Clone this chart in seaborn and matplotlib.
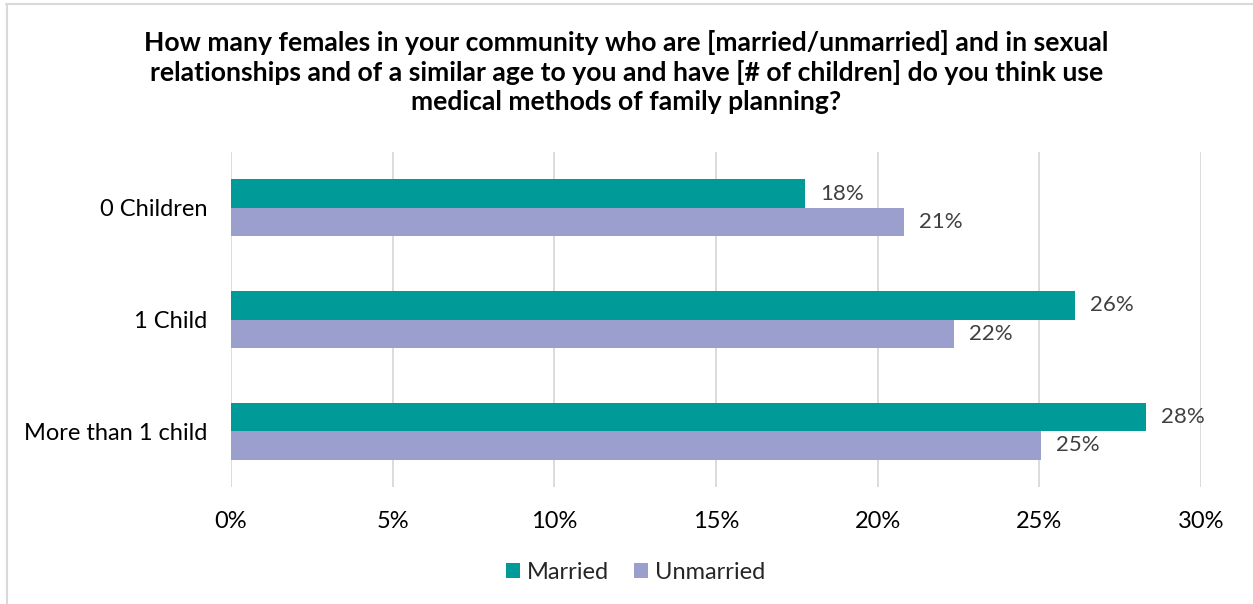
import matplotlib
matplotlib.use("Agg")
import matplotlib.pyplot as plt
from matplotlib.lines import Line2D
from matplotlib.ticker import FuncFormatter, MultipleLocator
import seaborn as sns
import pandas as pd

categories = ["0 Children", "1 Child", "More than 1 child"]
married = [17.75, 26.1, 28.3]
unmarried = [20.8, 22.35, 25.05]
married_labels = ["18%", "26%", "28%"]
unmarried_labels = ["21%", "22%", "25%"]
series = ["Married", "Unmarried"]
colors = ["#009B98", "#9B9FCD"]
title = ("How many females in your community who are [married/unmarried] and in sexual\n"
         "relationships and of a similar age to you and have [# of children] do you think use\n"
         "medical methods of family planning?")

df = pd.DataFrame({
    "category": categories * 2,
    "value": married + unmarried,
    "series": [series[0]] * 3 + [series[1]] * 3,
})

sns.set_theme(style="white")
plt.rcParams["font.family"] = ["Lato", "DejaVu Sans"]

fig = plt.figure(figsize=(12.53, 6.04), dpi=100)
ax = fig.add_axes([231 / 1253, 1 - 487 / 604, (1201 - 231) / 1253, (487 - 152) / 604])

sns.barplot(data=df, x="value", y="category", hue="series", order=categories,
            hue_order=series, palette=colors, width=0.51, orient="h", ax=ax,
            saturation=1, edgecolor="none", legend=True)

ax.set_xlim(0, 30)
ax.set_ylim(2.5, -0.5)
ax.xaxis.set_major_locator(MultipleLocator(5))
ax.xaxis.set_major_formatter(FuncFormatter(lambda v, p: f"{v:.0f}%"))
ax.grid(axis="x", color="#D9D9D9", linewidth=1.3)
ax.grid(axis="y", visible=False)
ax.set_axisbelow(True)
for s in ax.spines.values():
    s.set_visible(False)
ax.set_xlabel("")
ax.set_ylabel("")
ax.tick_params(axis="x", labelsize=17, colors="black", pad=17, length=0)
ax.tick_params(axis="y", labelsize=17, colors="black", pad=17, length=0)
for t in ax.get_xticklabels() + ax.get_yticklabels():
    t.set_color("black")

labels_all = [married_labels, unmarried_labels]
for cont, labs in zip(ax.containers, labels_all):
    ax.bar_label(cont, labels=labs, padding=11, fontsize=16, color="#404040")

leg = ax.legend(loc="upper center", bbox_to_anchor=(0.417, -0.195), ncol=2, frameon=False,
                fontsize=17, handlelength=0.6, handleheight=0.6, handletextpad=0.3,
                columnspacing=1.05, borderaxespad=0)

fig.text(0.5, 1 - 30 / 604, title, ha="center", va="top", fontsize=19.1,
         fontweight="bold", color="black", linespacing=1.24)

fig.add_artist(Line2D([6 / 1253, 1], [1 - 3.5 / 604, 1 - 3.5 / 604], color="#D9D9D9", lw=1.5,
                      transform=fig.transFigure))
fig.add_artist(Line2D([6.5 / 1253, 6.5 / 1253], [0, 1 - 3.5 / 604], color="#D9D9D9", lw=1.5,
                      transform=fig.transFigure))

fig.savefig("out.png", dpi=100, facecolor="white")
